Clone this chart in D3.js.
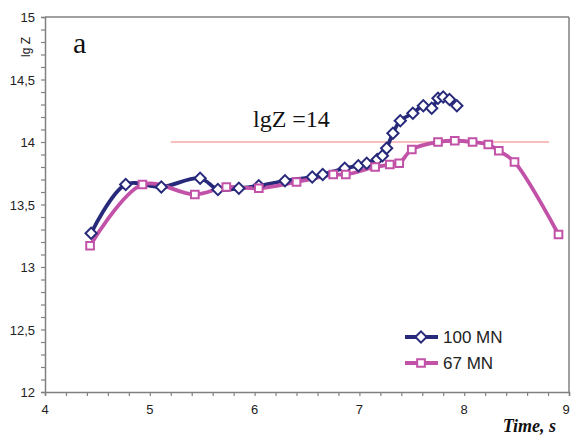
<!DOCTYPE html>
<html><head><meta charset="utf-8">
<script src="https://cdn.jsdelivr.net/npm/d3@7"></script>
<style>body{margin:0;background:#fff}svg{display:block}</style>
</head><body>
<script>
const seriesNames = ["100 MN", "67 MN"];
const time100 = [4.44,4.77,5.11,5.48,5.65,5.85,6.04,6.29,6.55,6.65,6.86,6.99,7.07,7.17,7.22,7.26,7.32,7.39,7.51,7.61,7.69,7.75,7.80,7.86,7.93];
const lgZ100  = [13.27,13.66,13.64,13.71,13.62,13.63,13.65,13.69,13.72,13.74,13.79,13.81,13.83,13.86,13.89,13.95,14.07,14.17,14.23,14.29,14.27,14.35,14.36,14.34,14.29];
const time67 = [4.43,4.93,5.43,5.73,6.04,6.40,6.75,6.87,7.15,7.29,7.38,7.50,7.75,7.91,8.08,8.23,8.33,8.48,8.90];
const lgZ67  = [13.17,13.66,13.58,13.64,13.63,13.68,13.74,13.74,13.80,13.82,13.83,13.94,14.00,14.01,14.00,13.98,13.93,13.84,13.26];
const refLine = {value: 14, from: 5.20, to: 8.81, label: "lgZ =14"};
const xTicks = [4,5,6,7,8,9];
const yTicks = [12,12.5,13,13.5,14,14.5,15];
const yTickLabels = ["12","12,5","13","13,5","14","14,5","15"];

const W = 571, H = 436;
const svg = d3.select("body").append("svg").attr("width", W).attr("height", H);
const x = d3.scaleLinear().domain([4,9]).range([45,569]);
const y = d3.scaleLinear().domain([12,15]).range([392,17]);
const axisColor = "#808080";

// border top/right
svg.append("line").attr("x1",x(4)).attr("x2",x(9)).attr("y1",y(15)).attr("y2",y(15)).attr("stroke",axisColor).attr("stroke-width",1.5);
svg.append("line").attr("x1",x(9)).attr("x2",x(9)).attr("y1",y(15)).attr("y2",y(12)).attr("stroke",axisColor).attr("stroke-width",1.5);

// y axis
const yMinor = d3.range(120,151).map(v=>v/10);
const gy = svg.append("g").attr("transform",`translate(${x(4)},0)`)
  .call(d3.axisLeft(y).tickValues(yMinor).tickSize(4).tickFormat(""));
gy.selectAll("path,line").attr("stroke",axisColor).attr("stroke-width",1.2);
gy.select("path").attr("stroke-width",1.5);
svg.append("g").selectAll("text").data(yTicks).join("text")
  .attr("x",35).attr("y",d=>y(d)+5).attr("text-anchor","end")
  .attr("font-family","Arial, 'Liberation Sans', sans-serif").attr("font-size",13).attr("fill","#222")
  .text((d,i)=>yTickLabels[i]);

// x axis
const xMinor = d3.range(20,46).map(v=>v/5);
const gx = svg.append("g").attr("transform",`translate(0,${y(12)})`)
  .call(d3.axisBottom(x).tickValues(xMinor).tickSize(4).tickFormat(""));
gx.selectAll("path,line").attr("stroke",axisColor).attr("stroke-width",1.2);
gx.select("path").attr("stroke-width",1.5);
svg.append("g").selectAll("text").data(xTicks).join("text")
  .attr("x",d=>Math.min(x(d), 566)).attr("y",414).attr("text-anchor","middle")
  .attr("font-family","Arial, 'Liberation Sans', sans-serif").attr("font-size",13).attr("fill","#222")
  .text(d=>d);

// axis titles
svg.append("text").attr("transform","translate(30,47) rotate(-90)").attr("text-anchor","middle")
  .attr("font-family","Arial, 'Liberation Sans', sans-serif").attr("font-size",12).attr("fill","#222").text("lg Z");
svg.append("text").attr("x",556).attr("y",432).attr("text-anchor","end")
  .attr("font-family","'Liberation Serif','Times New Roman',serif").attr("font-style","italic").attr("font-weight","bold")
  .attr("font-size",18).attr("fill","#111").text("Time, s");
svg.append("text").attr("x",73).attr("y",53)
  .attr("font-family","'Liberation Serif','Times New Roman',serif").attr("font-size",30).attr("fill","#111").text("a");

// reference line
svg.append("line").attr("x1",x(refLine.from)).attr("x2",x(refLine.to)).attr("y1",y(refLine.value)).attr("y2",y(refLine.value))
  .attr("stroke","#f4a8a8").attr("stroke-width",1.5);
svg.append("text").attr("x",253).attr("y",127)
  .attr("font-family","'Liberation Serif','Times New Roman',serif").attr("font-size",24).attr("fill","#111").text(refLine.label);

const colors = ["#27297a","#c252a8"];
const series = [
  {name:seriesNames[0], pts: time100.map((t,i)=>[t,lgZ100[i]]), sym: d3.symbolDiamond2, color: colors[0]},
  {name:seriesNames[1], pts: time67.map((t,i)=>[t,lgZ67[i]]), sym: d3.symbolSquare2, color: colors[1]}
];
const line = d3.line().x(d=>x(d[0])).y(d=>y(d[1])).curve(d3.curveCatmullRom.alpha(0.5));
series.forEach(s=>{
  svg.append("path").attr("d",line(s.pts)).attr("fill","none").attr("stroke",s.color).attr("stroke-width",3.8);
});
series.forEach(s=>{
  const sym = d3.symbol().type(s.sym).size(s.sym===d3.symbolSquare2?75:80);
  svg.append("g").selectAll("path").data(s.pts).join("path")
    .attr("transform",d=>`translate(${x(d[0])},${y(d[1])})`).attr("d",sym())
    .attr("fill","#fff").attr("stroke",s.color).attr("stroke-width",2);
});

// legend
const lg = svg.append("g");
series.forEach((s,i)=>{
  const ly = 337 + i*26;
  lg.append("line").attr("x1",405).attr("x2",438).attr("y1",ly).attr("y2",ly).attr("stroke",s.color).attr("stroke-width",3.8);
  lg.append("path").attr("transform",`translate(421,${ly})`).attr("d",d3.symbol().type(s.sym).size(s.sym===d3.symbolSquare2?75:80)())
    .attr("fill","#fff").attr("stroke",s.color).attr("stroke-width",2);
  lg.append("text").attr("x",443).attr("y",ly+6).attr("font-family","Arial, 'Liberation Sans', sans-serif")
    .attr("font-size",17).attr("fill","#222").text(s.name);
});
</script>
</body></html>
